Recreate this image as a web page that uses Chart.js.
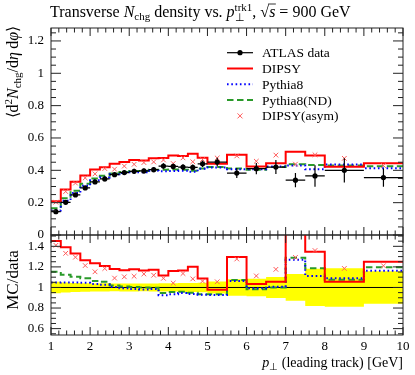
<!DOCTYPE html>
<html>
<head>
<meta charset="utf-8">
<script src="https://cdn.jsdelivr.net/npm/chart.js@4.4.1/dist/chart.umd.min.js"></script>
<style>
  body { margin: 0; background: #fff; }
  #wrap { position: relative; width: 415px; height: 375px; }
  #wrap canvas { position: absolute; left: 0; top: 0; }
</style>
</head>
<body>
<div id="wrap">
  <canvas id="main" width="415" height="375"></canvas>
  <canvas id="ratio" width="415" height="375"></canvas>
</div>
<script>
// Bin edges in leading-track pT [GeV]
const binEdges = [1.0, 1.25, 1.5, 1.75, 2.0, 2.25, 2.5, 2.75, 3.0, 3.25, 3.5, 3.75, 4.0, 4.25, 4.5, 4.75, 5.0, 5.5, 6.0, 6.5, 7.0, 7.5, 8.0, 9.0, 10.0];

// ATLAS data and its uncertainty
const atlasData = [0.144, 0.202, 0.248, 0.291, 0.328, 0.347, 0.373, 0.386, 0.394, 0.396, 0.404, 0.426, 0.424, 0.420, 0.418, 0.440, 0.451, 0.383, 0.410, 0.420, 0.339, 0.365, 0.400, 0.355];
const atlasErr = [0.008, 0.010, 0.011, 0.012, 0.013, 0.014, 0.014, 0.015, 0.015, 0.015, 0.016, 0.017, 0.017, 0.018, 0.018, 0.020, 0.026, 0.031, 0.035, 0.043, 0.044, 0.066, 0.075, 0.056];

// Generators
const dipsy = [0.209, 0.281, 0.330, 0.368, 0.405, 0.419, 0.440, 0.451, 0.464, 0.461, 0.474, 0.476, 0.492, 0.489, 0.502, 0.478, 0.441, 0.496, 0.424, 0.443, 0.515, 0.492, 0.422, 0.444];
const pythia8 = [0.151, 0.212, 0.260, 0.304, 0.339, 0.356, 0.375, 0.383, 0.388, 0.388, 0.398, 0.394, 0.396, 0.397, 0.391, 0.409, 0.418, 0.407, 0.407, 0.423, 0.430, 0.406, 0.436, 0.413];
const pythia8ND = [0.166, 0.227, 0.274, 0.317, 0.349, 0.366, 0.380, 0.390, 0.396, 0.396, 0.403, 0.403, 0.405, 0.403, 0.397, 0.411, 0.421, 0.411, 0.403, 0.420, 0.437, 0.433, 0.430, 0.425];
const dipsyAsym = [0.203, 0.269, 0.321, 0.353, 0.378, 0.411, 0.407, 0.426, 0.437, 0.448, 0.452, 0.464, 0.442, 0.477, 0.453, 0.467, 0.476, 0.489, 0.456, 0.494, 0.438, 0.496, 0.474, 0.430];

// Tick labels
const xTickLabels = ['1', '2', '3', '4', '5', '6', '7', '8', '9', '10'];
const mainYTicks = [0, 0.2, 0.4, 0.6, 0.8, 1, 1.2];
const ratioYTicks = [0.6, 0.8, 1, 1.2, 1.4];

const SERIF = '"Liberation Serif", "Times New Roman", serif';
const rm = (s) => s + 'px ' + SERIF;
const it = (s) => 'italic ' + s + 'px ' + SERIF;

const RED = '#ff0000', BLUE = '#0000ff', GREEN = '#2a9a2a', ASYM = '#ff5a5a';

const centers = binEdges.slice(0, -1).map((lo, i) => (lo + binEdges[i + 1]) / 2);
const steps = (vals) => {
	const pts = [];
	vals.forEach((v, i) => { pts.push({ x: binEdges[i], y: v }, { x: binEdges[i + 1], y: v }); });
	return pts;
};
const points = (vals) => vals.map((v, i) => ({ x: centers[i], y: v }));
const overData = (vals) => vals.map((v, i) => v / atlasData[i]);

// Rich text: sequence of pieces with their own font and vertical offset.
function richWidth(ctx, parts) {
	let w = 0;
	parts.forEach((p) => {
		if (p.stack) {
			w += Math.max(...p.stack.map((s) => { ctx.font = s.f; return ctx.measureText(s.t).width; }));
		} else {
			ctx.font = p.f; w += ctx.measureText(p.t).width;
		}
	});
	return w;
}
function drawRich(ctx, parts, x, y) {
	ctx.textAlign = 'left';
	ctx.textBaseline = 'alphabetic';
	parts.forEach((p) => {
		if (p.stack) {
			let mw = 0;
			p.stack.forEach((s) => {
				ctx.font = s.f;
				ctx.fillText(s.t, x, y + (s.dy || 0));
				mw = Math.max(mw, ctx.measureText(s.t).width);
			});
			x += mw;
			return;
		}
		ctx.font = p.f;
		ctx.fillText(p.t, x, y + (p.dy || 0));
		const w = ctx.measureText(p.t).width;
		if (p.over) {
			ctx.save(); ctx.lineWidth = 0.8; ctx.strokeStyle = '#000';
			ctx.beginPath(); ctx.moveTo(x - 1, y - 13); ctx.lineTo(x + w + 0.5, y - 13); ctx.stroke();
			ctx.restore();
		}
		x += w;
	});
}

// Frame with inward ticks on all four sides
function drawFrame(chart, yMajor, yMinorStep) {
	const { ctx, chartArea: a, scales } = chart;
	const xs = scales.x, ys = scales.y;
	ctx.save();
	ctx.strokeStyle = '#222';
	ctx.lineWidth = 1;
	ctx.strokeRect(a.left, a.top, a.right - a.left, a.bottom - a.top);
	ctx.beginPath();
	for (let k = 0; k <= 45; k++) {
		const v = 1 + k * 0.2;
		const px = xs.getPixelForValue(v);
		const len = k % 5 === 0 ? 8 : 4.5;
		ctx.moveTo(px, a.top); ctx.lineTo(px, a.top + len);
		ctx.moveTo(px, a.bottom); ctx.lineTo(px, a.bottom - len);
	}
	const n = Math.round((ys.max - ys.min) / yMinorStep) + 2;
	const start = Math.ceil(ys.min / yMinorStep) * yMinorStep;
	for (let k = 0; k < n; k++) {
		const v = start + k * yMinorStep;
		if (v > ys.max + 1e-9) break;
		const py = ys.getPixelForValue(v);
		const major = Math.abs(Math.round(v / 0.2) * 0.2 - v) < 1e-6;
		const len = major ? 10 : 5;
		ctx.moveTo(a.left, py); ctx.lineTo(a.left + len, py);
		ctx.moveTo(a.right, py); ctx.lineTo(a.right - len, py);
	}
	ctx.stroke();
	ctx.fillStyle = '#000';
	ctx.font = rm(13);
	ctx.textAlign = 'right';
	ctx.textBaseline = 'middle';
	yMajor.forEach((t) => ctx.fillText(String(t), 44, ys.getPixelForValue(t)));
	ctx.restore();
}

const errorBars = {
	id: 'errorBars',
	beforeDatasetDraw(chart, args) {
		if (args.index !== 0) return;
		const { ctx, scales: { x, y } } = chart;
		ctx.save();
		ctx.strokeStyle = '#000';
		ctx.lineWidth = 1.2;
		ctx.beginPath();
		atlasData.forEach((v, i) => {
			const px = x.getPixelForValue(centers[i]);
			const py = y.getPixelForValue(v);
			ctx.moveTo(x.getPixelForValue(binEdges[i]), py);
			ctx.lineTo(x.getPixelForValue(binEdges[i + 1]), py);
			ctx.moveTo(px, y.getPixelForValue(v - atlasErr[i]));
			ctx.lineTo(px, y.getPixelForValue(v + atlasErr[i]));
		});
		ctx.stroke();
		ctx.restore();
	}
};

const mainDecor = {
	id: 'mainDecor',
	afterDraw(chart) {
		const { ctx } = chart;
		drawFrame(chart, mainYTicks, 0.05);
		ctx.save();
		ctx.fillStyle = '#000';
		// title
		drawRich(ctx, [
			{ t: 'Transverse ', f: rm(16) },
			{ t: 'N', f: it(16) },
			{ t: 'chg', f: rm(11), dy: 3 },
			{ t: ' density vs. ', f: rm(16) },
			{ t: 'p', f: it(16) },
			{ stack: [{ t: '\u22A5', f: rm(10.5), dy: 3.5 }, { t: 'trk1', f: rm(11), dy: -6.5 }] },
			{ t: ', ', f: rm(16) },
			{ t: '\u221A', f: rm(16) },
			{ t: 's', f: it(16), over: true },
			{ t: ' = 900 GeV', f: rm(16) }
		], 50, 17);
		// y title, rotated, ending at the top of the frame
		const yParts = [
			{ t: '\u27E8d', f: rm(16) },
			{ t: '2', f: rm(11), dy: -6.5 },
			{ t: 'N', f: it(16) },
			{ t: 'chg', f: rm(11), dy: 3 },
			{ t: '/d', f: rm(16) },
			{ t: '\u03B7', f: it(16) },
			{ t: '\u2009d', f: rm(16) },
			{ t: '\u03C6', f: it(16) },
			{ t: '\u27E9', f: rm(16) }
		];
		const w = richWidth(ctx, yParts);
		ctx.translate(18, 26);
		ctx.rotate(-Math.PI / 2);
		drawRich(ctx, yParts, -w, 0);
		ctx.restore();

		// legend
		ctx.save();
		const rows = ['ATLAS data', 'DIPSY', 'Pythia8', 'Pythia8(ND)', 'DIPSY(asym)'];
		rows.forEach((label, i) => {
			const cy = 52.7 + i * 15.8;
			ctx.setLineDash([]);
			ctx.lineWidth = 2;
			if (i === 0) {
				ctx.strokeStyle = '#000'; ctx.lineWidth = 1.2;
				ctx.beginPath(); ctx.moveTo(227, cy); ctx.lineTo(253, cy); ctx.stroke();
				ctx.fillStyle = '#000';
				ctx.beginPath(); ctx.arc(240, cy, 2.6, 0, Math.PI * 2); ctx.fill();
			} else if (i === 1) {
				ctx.strokeStyle = RED;
				ctx.beginPath(); ctx.moveTo(227, cy); ctx.lineTo(253, cy); ctx.stroke();
			} else if (i === 2) {
				ctx.strokeStyle = BLUE; ctx.setLineDash([1.6, 2.7]);
				ctx.beginPath(); ctx.moveTo(227, cy); ctx.lineTo(253, cy); ctx.stroke();
			} else if (i === 3) {
				ctx.strokeStyle = GREEN; ctx.setLineDash([6.5, 3.5]);
				ctx.beginPath(); ctx.moveTo(227, cy); ctx.lineTo(253, cy); ctx.stroke();
			} else {
				ctx.strokeStyle = ASYM; ctx.lineWidth = 1;
				ctx.beginPath();
				ctx.moveTo(237.5, cy - 2.5); ctx.lineTo(242.5, cy + 2.5);
				ctx.moveTo(237.5, cy + 2.5); ctx.lineTo(242.5, cy - 2.5);
				ctx.stroke();
			}
			ctx.fillStyle = '#000';
			ctx.font = rm(13.5);
			ctx.textAlign = 'left';
			ctx.textBaseline = 'alphabetic';
			ctx.fillText(label, 262, cy + 4.5);
		});
		ctx.restore();
	}
};

const ratioDecor = {
	id: 'ratioDecor',
	afterDraw(chart) {
		const { ctx, scales: { x } } = chart;
		drawFrame(chart, ratioYTicks, 0.05);
		ctx.save();
		ctx.fillStyle = '#000';
		ctx.font = rm(13);
		ctx.textAlign = 'center';
		ctx.textBaseline = 'alphabetic';
		xTickLabels.forEach((t) => ctx.fillText(t, x.getPixelForValue(Number(t)), 350));
		// x title, right aligned
		const xParts = [
			{ t: 'p', f: it(14) },
			{ t: '\u22A5', f: rm(10), dy: 3 },
			{ t: ' (leading track) [GeV]', f: rm(14) }
		];
		drawRich(ctx, xParts, 403 - richWidth(ctx, xParts), 367);
		// ratio y title
		const rParts = [{ t: 'MC/data', f: rm(17) }];
		const w = richWidth(ctx, rParts);
		ctx.translate(18, 280);
		ctx.rotate(-Math.PI / 2);
		drawRich(ctx, rParts, -w / 2, 0);
		ctx.restore();
	}
};

const common = {
	responsive: false,
	animation: false,
	events: [],
	plugins: { legend: { display: false }, tooltip: { enabled: false } },
	elements: { line: { tension: 0 } }
};

new Chart(document.getElementById('main'), {
	type: 'line',
	data: {
		datasets: [
			{ label: 'ATLAS data', type: 'scatter', data: points(atlasData), pointRadius: 2.6, pointBackgroundColor: '#000', pointBorderWidth: 0, showLine: false },
			{ label: 'DIPSY(asym)', type: 'scatter', data: points(dipsyAsym), pointStyle: 'crossRot', pointRadius: 3.3, pointBorderColor: ASYM, pointBorderWidth: 1, showLine: false },
			{ label: 'DIPSY', data: steps(dipsy), borderColor: RED, borderWidth: 2, pointRadius: 0 },
			{ label: 'Pythia8', data: steps(pythia8), borderColor: BLUE, borderWidth: 2, borderDash: [1.6, 2.7], pointRadius: 0 },
			{ label: 'Pythia8(ND)', data: steps(pythia8ND), borderColor: GREEN, borderWidth: 2, borderDash: [6.5, 3.5], pointRadius: 0 }
		]
	},
	options: Object.assign({}, common, {
		layout: { padding: { left: 51, right: 12, top: 28, bottom: 140 } },
		scales: {
			x: { type: 'linear', min: 1, max: 10, display: false },
			y: { type: 'linear', min: 0, max: 1.28, display: false }
		}
	}),
	plugins: [errorBars, mainDecor]
});

const bandHi = atlasData.map((v, i) => 1 + atlasErr[i] / v);
const bandLo = atlasData.map((v, i) => 1 - atlasErr[i] / v);

new Chart(document.getElementById('ratio'), {
	type: 'line',
	data: {
		datasets: [
			{ label: 'DIPSY(asym)', type: 'scatter', data: points(overData(dipsyAsym)), pointStyle: 'crossRot', pointRadius: 3.3, pointBorderColor: ASYM, pointBorderWidth: 1, showLine: false },
			{ label: 'DIPSY', data: steps(overData(dipsy)), borderColor: RED, borderWidth: 2, pointRadius: 0 },
			{ label: 'Pythia8', data: steps(overData(pythia8)), borderColor: BLUE, borderWidth: 2, borderDash: [1.6, 2.7], pointRadius: 0 },
			{ label: 'Pythia8(ND)', data: steps(overData(pythia8ND)), borderColor: GREEN, borderWidth: 2, borderDash: [6.5, 3.5], pointRadius: 0 },
			{ label: 'data', data: [{ x: 1, y: 1 }, { x: 10, y: 1 }], borderColor: '#000', borderWidth: 1, pointRadius: 0 },
			{ label: 'band', data: steps(bandHi), borderWidth: 0, borderColor: 'rgba(0,0,0,0)', backgroundColor: '#ffff00', fill: '+1', pointRadius: 0 },
			{ label: 'bandLo', data: steps(bandLo), borderWidth: 0, borderColor: 'rgba(0,0,0,0)', pointRadius: 0, fill: false }
		]
	},
	options: Object.assign({}, common, {
		layout: { padding: { left: 51, right: 12, top: 235, bottom: 40 } },
		scales: {
			x: { type: 'linear', min: 1, max: 10, display: false },
			y: { type: 'linear', min: 0.538, max: 1.51, display: false }
		}
	}),
	plugins: [ratioDecor]
});
</script>
</body>
</html>
